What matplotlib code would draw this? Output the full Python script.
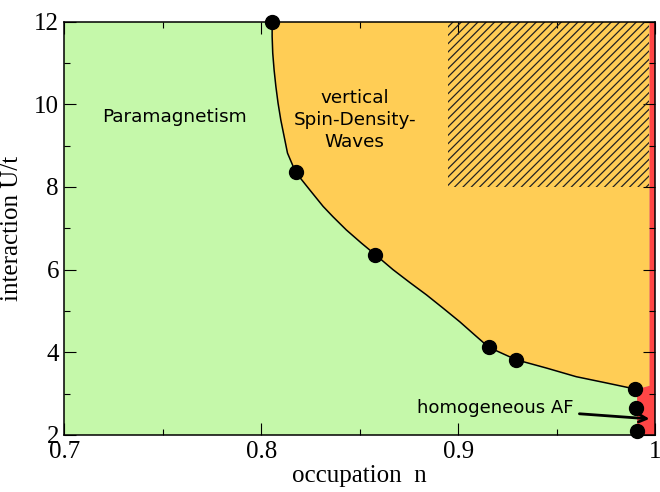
import numpy as np
import matplotlib.pyplot as plt
from matplotlib.patches import Polygon, Rectangle

# computed transition points (occupation n, U/t)
n_pts = [0.8055, 0.8174, 0.8580, 0.9156, 0.9295, 0.9901, 0.9906, 0.9910]
u_pts = [12.0, 8.36, 6.36, 4.12, 3.82, 3.11, 2.66, 2.10]

# paramagnet / SDW phase boundary
bnd_n = [0.8055, 0.8055, 0.8058, 0.8065, 0.8074, 0.8085, 0.8099, 0.8116,
         0.8133, 0.8174, 0.8246, 0.8314, 0.8364, 0.8432, 0.8509, 0.8580,
         0.8669, 0.8754, 0.8839, 0.8923, 0.9008, 0.9084, 0.9156, 0.9295,
         0.9448, 0.9600, 0.9752, 0.9901]
bnd_u = [12.0, 11.64, 11.24, 10.83, 10.43, 10.03, 9.62, 9.22,
         8.82, 8.36, 7.93, 7.53, 7.28, 6.96, 6.64, 6.36,
         6.00, 5.69, 5.39, 5.07, 4.74, 4.42, 4.12, 3.82,
         3.62, 3.41, 3.26, 3.11]

# homogeneous AF sliver near half filling
af_n = [0.9972, 1.0, 1.0, 0.9909, 0.9909, 0.9972]
af_u = [12.0, 12.0, 2.0, 2.0, 3.11, 3.19]

# hatched window (n range, U range)
hatch_n = [0.895, 0.9972]
hatch_u = [8.0, 12.0]

xticks = [0.7, 0.8, 0.9, 1.0]
xticklabels = ["0.7", "0.8", "0.9", "1"]
yticks = [2, 4, 6, 8, 10, 12]

GREEN = "#c5f8aa"
ORANGE = "#ffcd55"
RED = "#ff4646"

plt.rcParams["hatch.linewidth"] = 0.9

fig = plt.figure(figsize=(6.6, 4.92), dpi=100)
ax = fig.add_axes([0.0977, 0.1159, 0.8947, 0.8401])
ax.set_facecolor(GREEN)
ax.set_xlim(0.7, 1.0)
ax.set_ylim(2, 12)

# SDW region: right of the boundary, left of the AF sliver
sdw_xy = list(zip(bnd_n, bnd_u)) + [(af_n[-1], af_u[-1]), (af_n[0], af_u[0])]
ax.add_patch(Polygon(sdw_xy, closed=True, facecolor=ORANGE, edgecolor="none", zorder=1))
ax.add_patch(Polygon(list(zip(af_n, af_u)), closed=True, facecolor=RED,
                     edgecolor="none", zorder=1))

ax.add_patch(Rectangle((hatch_n[0], hatch_u[0]), hatch_n[1] - hatch_n[0],
                       hatch_u[1] - hatch_u[0], fill=False, hatch="////",
                       edgecolor="#222222", linewidth=0, zorder=2))

ax.plot(bnd_n, bnd_u, color="black", lw=1.1, zorder=3)
ax.plot(n_pts, u_pts, "o", color="black", ms=10, zorder=4, clip_on=False)

ax.text(0.756, 9.70, "Paramagnetism", ha="center", va="center", fontsize=13.3)
ax.text(0.8474, 9.62, "vertical\nSpin-Density-\nWaves", ha="center", va="center",
        multialignment="center", fontsize=13.2, linespacing=1.28)
ax.annotate("homogeneous AF", xy=(0.9972, 2.39), xytext=(0.919, 2.66),
            ha="center", va="center", fontsize=13.1,
            arrowprops=dict(arrowstyle="->", lw=2, color="black",
                            shrinkA=2, shrinkB=0, mutation_scale=14))

ax.set_xticks(xticks)
ax.set_xticklabels(xticklabels)
ax.set_yticks(yticks)
ax.set_xticks(np.arange(0.75, 1.0, 0.1), minor=True)
ax.set_yticks(np.arange(3, 12, 2), minor=True)
ax.tick_params(which="both", direction="in", top=True, right=True, width=0.8,
               labelsize=18, labelfontfamily="Liberation Serif")
ax.tick_params(which="major", length=8.5)
ax.tick_params(which="minor", length=4.3)
ax.tick_params(axis="x", pad=4)
ax.tick_params(axis="y", pad=4)
for sp in ax.spines.values():
    sp.set_linewidth(1.1)
    sp.set_zorder(5)

ax.set_xlabel("occupation  n", fontsize=18, family="Liberation Serif", labelpad=2)
ax.set_ylabel("interaction U/t", fontsize=18, family="Liberation Serif", labelpad=8)

fig.savefig("out.png", dpi=100)
